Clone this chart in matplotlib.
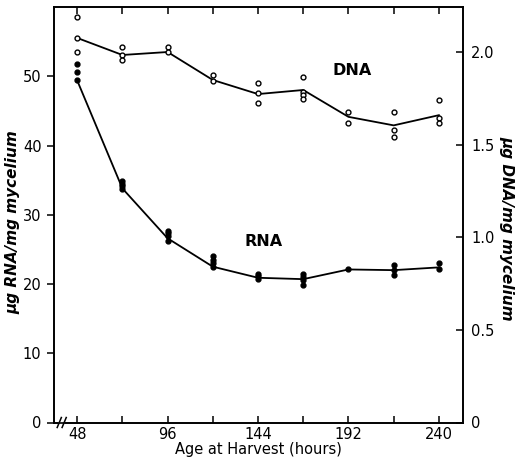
import matplotlib
matplotlib.use("Agg")
import matplotlib.pyplot as plt
from matplotlib.patches import Rectangle

# ---- data ----
hours = [48, 72, 96, 120, 144, 168, 192, 216, 240]

rna_points = {
    48: [51.7, 50.6, 49.4],
    72: [34.9, 34.5, 34.1, 33.7],
    96: [27.6, 27.3, 26.9, 26.2],
    120: [24.0, 23.5, 23.0, 22.5],
    144: [21.5, 21.1, 20.7],
    168: [21.4, 21.0, 20.6, 19.9],
    192: [22.1],
    216: [22.7, 22.0, 21.3],
    240: [23.1, 22.1],
}
rna_line = [49.4, 33.8, 26.6, 22.5, 20.9, 20.7, 22.1, 22.0, 22.4]

dna_points = {
    48: [2.19, 2.076, 1.998],
    72: [2.025, 1.984, 1.957],
    96: [2.029, 2.001],
    120: [1.874, 1.842],
    144: [1.834, 1.777, 1.723],
    168: [1.867, 1.784, 1.766, 1.748],
    192: [1.677, 1.618],
    216: [1.677, 1.578, 1.539],
    240: [1.741, 1.645, 1.618],
}
dna_line = [2.076, 1.984, 2.0, 1.849, 1.773, 1.795, 1.65, 1.604, 1.659]

x_major = [48, 96, 144, 192, 240]
x_minor = [72, 120, 168, 216]
left_ticks = [0, 10, 20, 30, 40, 50]
right_ticks = [0, 0.5, 1.0, 1.5, 2.0]
right_ticklabels = ["0", "0.5", "1.0", "1.5", "2.0"]

plt.rcParams['font.family'] = ['DejaVu Sans']

fig = plt.figure(figsize=(5.21, 4.58), dpi=100)
ax = fig.add_axes([54/521, 1 - 422.5/458, (463 - 54)/521, (422.5 - 7)/458])
ax2 = ax.twinx()

ax.set_xlim(35.7, 252.8)
ax.set_ylim(0, 60)
ax2.set_ylim(0, 2.243)

lw = 1.3
# RNA
ax.plot(hours, rna_line, color='black', lw=lw, zorder=2)
for h in hours:
    ys = rna_points[h]
    ax.plot([h]*len(ys), ys, 'o', ms=3.5, color='black', zorder=3)

# DNA
ax2.plot(hours, dna_line, color='black', lw=lw, zorder=2)
for h in hours:
    ys = dna_points[h]
    ax2.plot([h]*len(ys), ys, 'o', ms=3.5, mfc='white', mec='black', mew=1.0,
             zorder=3)

# ticks
ax.set_xticks(x_major)
ax.set_xticks(x_minor, minor=True)
ax.set_yticks(left_ticks)
ax.tick_params(axis='x', which='both', direction='in', top=True, length=5,
               width=1.1, labelsize=10.5, pad=3)
ax.tick_params(axis='y', direction='out', length=5, width=1.1, labelsize=10.5,
               pad=4)
ax2.set_yticks(right_ticks)
ax2.set_yticklabels(right_ticklabels)
ax2.tick_params(axis='y', direction='in', length=5, width=1.1, labelsize=10.5,
                pad=6)

for a in (ax, ax2):
    for s in a.spines.values():
        s.set_linewidth(1.2)

ax.set_xlabel("Age at Harvest (hours)", fontsize=10.5, labelpad=0)
ax.set_ylabel("μg RNA/mg mycelium", fontsize=11, style='italic',
              fontweight='bold', va='center', ha='center')
ax2.set_ylabel("μg DNA/mg mycelium", fontsize=11, style='italic',
               fontweight='bold', rotation=-90, va='center', ha='center')
ax.yaxis.set_label_coords(-0.10, 0.483)
ax2.yaxis.set_label_coords(1.108, 0.468)

ax.text(183.5, 50.9, "DNA", fontsize=11.5, fontweight='bold', ha='left',
        va='center')
ax.text(137, 26.2, "RNA", fontsize=11.5, fontweight='bold', ha='left',
        va='center')

# axis break marks on bottom spine
trans = ax.get_xaxis_transform()
ax.add_patch(Rectangle((37.6, -0.01), 4.0, 0.02, transform=trans,
                       facecolor='white', edgecolor='none', clip_on=False,
                       zorder=5))
for x0 in (37.4, 40.0):
    ax.plot([x0, x0 + 2.2], [-0.012, 0.012], transform=trans, color='black',
            lw=1.1, clip_on=False, zorder=6)

fig.savefig("out.png", dpi=100)
